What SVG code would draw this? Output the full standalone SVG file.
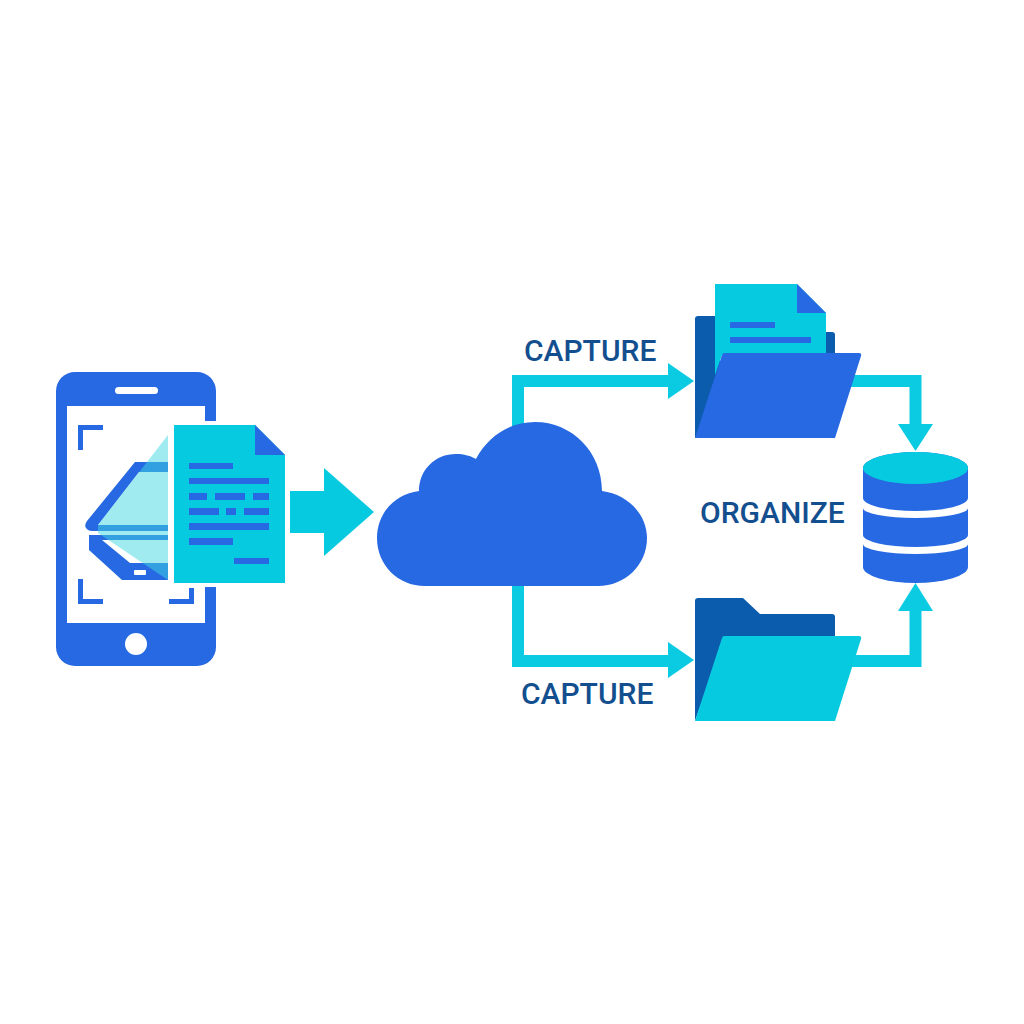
<svg xmlns="http://www.w3.org/2000/svg" width="1024" height="1024" viewBox="0 0 1024 1024">
<style>
.b{fill:#2769e2}.c{fill:#06cbe0}.d{fill:#0b5cad}.w{fill:#fff}
.cn{fill:none;stroke:#0bcbe2;stroke-width:12}
.ah{fill:#0bcbe2}
text{font-family:Roboto,"Liberation Sans",sans-serif;font-weight:500;font-size:30px;fill:#134f8f}
</style>
<rect width="1024" height="1024" fill="#fff"/>
<g id="connectors">
<path class="cn" d="M518 440V381H672"/><path class="ah" d="M668 363L694 381L668 399Z"/>
<path class="cn" d="M518 580V661H672"/><path class="ah" d="M668 642L694 660L668 678Z"/>
<path class="cn" d="M850 381H915.500V428"/><path class="ah" d="M898 424H933L915.500 451Z"/>
<path class="cn" d="M850 661H915.500V607"/><path class="ah" d="M898 611H933L915.500 583Z"/>
<path class="c" d="M290 491H324V468L374 512L324 556V533H290Z"/>
</g>
<g id="phone">
<rect class="b" x="56" y="372" width="160" height="294" rx="19"/>
<rect class="w" x="67" y="406" width="138" height="217"/>
<rect class="w" x="115" y="387" width="43" height="7" rx="3.500"/>
<circle class="w" cx="136" cy="644" r="11"/>
<path class="b" d="M78 450V425H103V430H83V450ZM78 579H83V599H103V604H78ZM169 599H189V588H194V604H169Z"/>
</g>
<g id="scanner">
<path class="b" d="M168 462H135L87 521Q84 525 86 528Q88 531 92 531H168V525H98L139 472H168Z"/>
<path class="b" d="M168 535H89V550L122 580H168V563H130L102 540H168Z"/>
<path fill="#40d8e0" fill-opacity=".5" d="M168 435V580L98 533V525Z"/>
<rect class="w" x="134" y="570" width="12" height="5" rx="1"/>
</g>
<g id="document">
<path class="c" stroke="#fff" stroke-width="8" paint-order="stroke" d="M174 425H255L285 455V583H174Z"/>
<path class="b" d="M255 425L285 455H255Z"/>
<path class="b" d="M189 463h44v6h-44zM189 478h80v6h-80zM189 493h18v7h-18zM215 493h30v7h-30zM253 493h16v7h-16zM189 508h30v7h-30zM226 508h10v7h-10zM244 508h25v7h-25zM189 523h80v7h-80zM189 538h44v7h-44zM234 558h35v6h-35z"/>
</g>
<g id="cloud">
<path class="b" d="M425 586C398 586 377 565 377 538C377 513 395 494 419 491C419 470 435 454 456 454C464 454 471 456 476 459C488 436 510 422 535 422C572 422 602 452 602 491C627 494 647 514 647 538C647 565 625 586 598 586Z"/>
</g>
<g id="folder-top">
<path class="d" d="M698 316H720V420L695 438V319Q695 316 698 316ZM826 332H832Q835 332 835 335V355H826Z"/>
<path class="c" d="M715 284H797L826 313V355H722L715 375Z"/>
<path class="b" d="M797 284L826 313H797Z"/>
<path class="b" d="M730 322h45v6h-45zM730 337h81v6h-81z"/>
<path class="b" d="M724 353H859Q862 353 861 356L835 438H695L722 355Q723 353 724 353Z"/>
</g>
<g id="folder-bottom">
<path class="d" d="M698 598H743L760 614H832Q835 614 835 617V650H720L695 721V601Q695 598 698 598Z"/>
<path class="c" d="M724 636H859Q862 636 861 639L835 721H695L722 638Q723 636 724 636Z"/>
</g>
<g id="database">
<path class="b" d="M863 468A52.500 16 0 0 1 968 468V567A52.500 16 0 0 1 863 567Z"/>
<path class="w" d="M863 498A52.500 13 0 0 0 968 498V508A52.500 10 0 0 1 863 508ZM863 535A52.500 12 0 0 0 968 535V544A52.500 10 0 0 1 863 544Z"/>
<ellipse class="c" cx="915.500" cy="468" rx="52.500" ry="16"/>
</g>
<g id="labels">
<text x="524" y="361">CAPTURE</text>
<text x="521" y="704">CAPTURE</text>
<text x="700" y="523">ORGANIZE</text>
</g>
</svg>
